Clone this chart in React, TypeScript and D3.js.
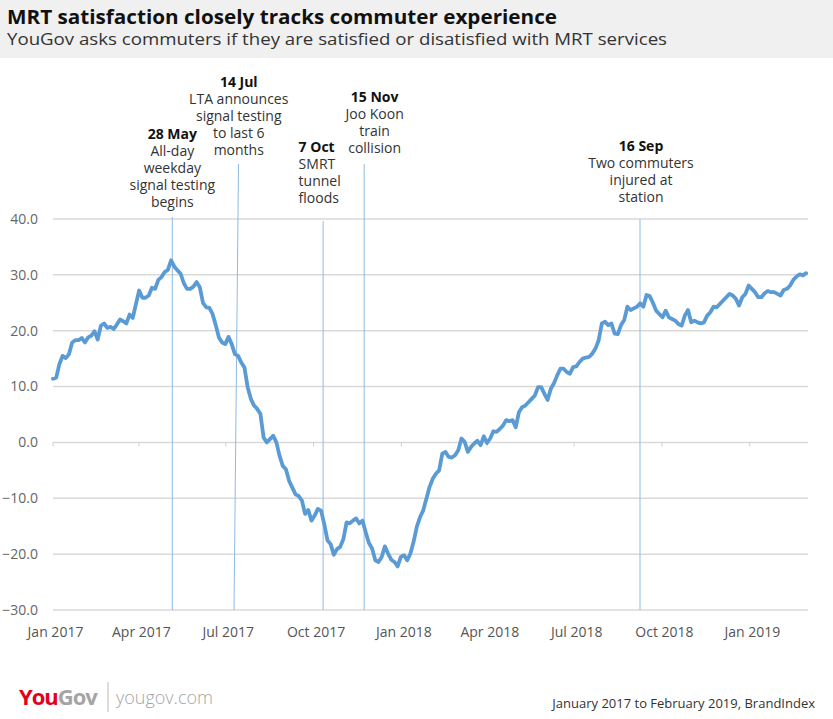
import React from "react";
import * as d3 from "d3";

// ---- DATA ----
const title = "MRT satisfaction closely tracks commuter experience";
const subtitle = "YouGov asks commuters if they are satisfied or disatisfied with MRT services";
const footerNote = "January 2017 to February 2019, BrandIndex";

// series evenly spaced between these two dates
const firstDate = new Date(2017, 0, 1);
const lastDate = new Date(2019, 2, 1);

const satisfaction = [
  11.4, 11.6, 14.0, 15.5, 15.1, 15.8, 17.9, 18.3, 18.3, 18.7,
  17.9, 18.8, 19.1, 19.9, 18.4, 20.9, 21.3, 20.5, 20.7, 20.3,
  21.1, 22.0, 21.7, 21.3, 22.9, 22.3, 24.8, 27.2, 25.9, 25.9,
  26.3, 27.7, 27.5, 29.1, 29.6, 30.5, 30.9, 32.6, 31.5, 30.8,
  30.2, 28.5, 27.5, 27.5, 27.9, 28.7, 27.8, 25.0, 24.2, 24.1,
  23.0, 21.0, 18.8, 17.9, 17.6, 18.9, 17.6, 15.8, 15.5, 14.3,
  13.4, 9.9, 7.8, 6.6, 6.0, 5.1, 0.9, 0.0, 0.6, 1.2,
  0.0, -2.4, -4.2, -4.8, -6.9, -8.1, -9.3, -9.6, -10.4, -12.8,
  -12.1, -14.0, -13.1, -11.9, -12.2, -14.6, -17.5, -18.2, -20.1, -19.1,
  -18.7, -17.3, -14.3, -14.5, -14.0, -13.6, -14.5, -14.0, -16.1, -18.0,
  -19.0, -21.1, -21.4, -20.5, -18.6, -19.9, -21.0, -21.4, -22.2, -20.5,
  -20.2, -21.1, -19.9, -17.8, -15.1, -13.4, -12.2, -10.1, -8.0, -6.5,
  -5.6, -5.0, -2.0, -1.7, -2.6, -2.7, -2.3, -1.4, 0.7, 0.1,
  -1.7, -0.8, -0.2, 0.3, -0.5, 1.1, -0.1, 0.7, 2.0, 1.9,
  2.4, 3.0, 4.0, 3.8, 4.0, 2.7, 5.4, 6.3, 6.6, 7.2,
  7.8, 8.4, 9.9, 9.9, 8.7, 7.6, 9.6, 10.6, 12.0, 13.2,
  13.2, 12.6, 12.3, 13.5, 13.6, 14.4, 15.0, 15.2, 15.3, 15.9,
  16.8, 18.3, 21.3, 21.6, 21.0, 21.3, 19.5, 19.4, 21.0, 21.9,
  24.3, 23.7, 24.0, 24.3, 24.9, 24.3, 26.4, 26.2, 25.0, 23.6,
  23.0, 22.4, 23.6, 22.4, 22.1, 21.8, 21.2, 20.9, 22.7, 23.7,
  21.5, 21.8, 21.5, 21.3, 21.5, 22.7, 23.3, 24.3, 24.2, 24.8,
  25.4, 26.0, 26.6, 26.3, 25.7, 24.5, 26.0, 26.6, 28.1, 27.5,
  26.9, 26.0, 26.0, 26.7, 27.1, 26.9, 26.9, 26.6, 26.3, 27.3,
  27.5, 28.1, 29.1, 29.7, 30.1, 29.9, 30.3,
];

const yTicks = [-30, -20, -10, 0, 10, 20, 30, 40];

const eventDates = ["2017-05-06", "2017-07-12", "2017-10-11", "2017-11-23", "2018-09-08"];
const eventHeads = ["28 May", "14 Jul", "7 Oct", "15 Nov", "16 Sep"];
const eventTexts = [
  ["All-day", "weekday", "signal testing", "begins"],
  ["LTA announces", "signal testing", "to last 6", "months"],
  ["SMRT", "tunnel", "floods"],
  ["Joo Koon", "train", "collision"],
  ["Two commuters", "injured at", "station"],
];

// ---- LAYOUT ----
const W = 833;
const H = 719;
const plot = { left: 53, right: 808, top: 219, bottom: 610 };
const FONT = "'Open Sans', Lato, 'Noto Sans', sans-serif";
const eventLayout = [
  { dx: 0, anchor: "middle", baseline: 139, lineTop: 217, tilt: 0 },
  { dx: 2.5, anchor: "middle", baseline: 86.5, lineTop: 164, tilt: -4.5 },
  { dx: -24.5, anchor: "start", baseline: 151.5, lineTop: 221, tilt: 0 },
  { dx: 10.5, anchor: "middle", baseline: 101.5, lineTop: 164, tilt: 0 },
  { dx: 1, anchor: "middle", baseline: 151, lineTop: 219, tilt: 0 },
];

export default function App() {
  const axisEnd = new Date(2019, 2, 3);
  const x = d3.scaleTime().domain([firstDate, axisEnd]).range([plot.left, plot.right]);
  const y = d3.scaleLinear().domain([-30, 40]).range([plot.bottom, plot.top]);

  const t0 = firstDate.getTime();
  const t1 = lastDate.getTime();
  const n = satisfaction.length;
  const points = satisfaction.map((v, i) => ({
    date: new Date(t0 + ((t1 - t0) * i) / (n - 1)),
    value: v,
  }));

  const line = d3
    .line<{ date: Date; value: number }>()
    .x((d) => x(d.date))
    .y((d) => y(d.value))
    .curve(d3.curveLinear);

  const quarterTicks = d3.timeMonth.every(3)!.range(firstDate, new Date(2019, 1, 1));
  const fmt = d3.timeFormat("%b %Y");
  const lineH = 17;

  return (
    <svg
      width={W}
      height={H}
      style={{ position: "absolute", left: 0, top: 0, background: "#fff" }}
      fontFamily={FONT}
    >
      <rect x={0} y={0} width={W} height={58} fill="#f0f0f0" />
      <text x={7} y={24} fontSize={20} fontWeight={700} fill="#111" textLength={550} lengthAdjust="spacingAndGlyphs">
        {title}
      </text>
      <text x={7} y={45} fontSize={16.5} fill="#333" textLength={660} lengthAdjust="spacingAndGlyphs">
        {subtitle}
      </text>

      {/* grid */}
      {yTicks.map((t) => (
        <g key={t}>
          <line x1={plot.left} x2={plot.right} y1={y(t)} y2={y(t)} stroke="#d9d9d9" strokeWidth={1.5} />
          <text x={38} y={y(t)} dy="0.35em" textAnchor="end" fontSize={14} fill="#666">
            {d3.format(".1f")(t)}
          </text>
        </g>
      ))}

      {/* ticks on zero line */}
      {quarterTicks.map((d) => (
        <line key={"t" + d.getTime()} x1={x(d)} x2={x(d)} y1={y(0)} y2={y(0) + 4} stroke="#cfcfcf" strokeWidth={1} />
      ))}
      {quarterTicks.map((d) => (
        <text key={"l" + d.getTime()} x={x(d) + 2.5} y={637} textAnchor="middle" fontSize={14} fill="#555">
          {fmt(d)}
        </text>
      ))}

      {/* event lines */}
      {eventDates.map((ds, i) => {
        const ex = x(d3.timeParse("%Y-%m-%d")(ds)!);
        const L = eventLayout[i];
        return (
          <g key={ds}>
            <line
              x1={ex - L.tilt / 2}
              x2={ex + L.tilt / 2}
              y1={L.lineTop}
              y2={plot.bottom}
              stroke="#8dbbe6"
              strokeWidth={1}
            />
            <text x={ex + L.dx} y={L.baseline} textAnchor={L.anchor as any} fontSize={14} fill="#333">
              <tspan x={ex + L.dx} fontWeight={700} fill="#111">
                {eventHeads[i]}
              </tspan>
              {eventTexts[i].map((s, j) => (
                <tspan key={j} x={ex + L.dx} dy={lineH}>
                  {s}
                </tspan>
              ))}
            </text>
          </g>
        );
      })}

      <path
        d={line(points) || ""}
        fill="none"
        stroke="#5b9bd5"
        strokeWidth={3.8}
        strokeLinejoin="round"
        strokeLinecap="round"
      />

      {/* footer */}
      <text x={19} y={705} fontSize={22} fontWeight={700} letterSpacing={-1}>
        <tspan fill="#e3001b">You</tspan>
        <tspan fill="#a5a5a5">Gov</tspan>
      </text>
      <line x1={108} x2={108} y1={682} y2={712} stroke="#bbb" strokeWidth={1} />
      <text x={116} y={704} fontSize={18} fill="#a5a5a5" fontWeight={300}>
        yougov.com
      </text>
      <text x={815} y={708} textAnchor="end" fontSize={13} fill="#333">
        {footerNote}
      </text>
    </svg>
  );
}
